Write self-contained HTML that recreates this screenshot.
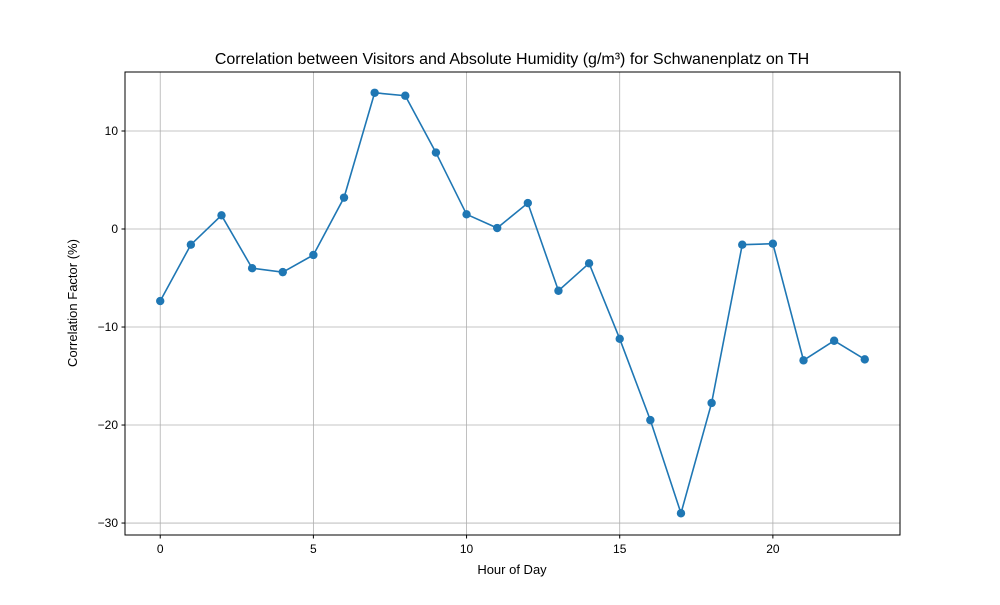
<!DOCTYPE html>
<html><head><meta charset="utf-8"><style>
body{margin:0;background:#fff;}
svg text{font-family:"Liberation Sans","DejaVu Sans",sans-serif;fill:#000;}
</style></head><body>
<svg id="chart" width="1000" height="600" xmlns="http://www.w3.org/2000/svg">
<rect width="1000" height="600" fill="#fff"/>
<text x="512" y="64" font-size="16" text-anchor="middle">Correlation between Visitors and Absolute Humidity (g/m³) for Schwanenplatz on TH</text>
<g id="grid"></g>
<g id="ticks"></g>
<g id="series"></g>
<rect x="125" y="72" width="775" height="463" fill="none" stroke="#000" stroke-width="1"/>
<text x="512" y="574" font-size="13" text-anchor="middle">Hour of Day</text>
<text x="77" y="303" font-size="13" text-anchor="middle" transform="rotate(-90 77 303)">Correlation Factor (%)</text>
</svg>
<script>
const hours=[0,1,2,3,4,5,6,7,8,9,10,11,12,13,14,15,16,17,18,19,20,21,22,23];
const values=[-7.35,-1.6,1.4,-4.0,-4.4,-2.65,3.2,13.9,13.6,7.8,1.5,0.1,2.65,-6.3,-3.5,-11.2,-19.5,-29.0,-17.75,-1.6,-1.5,-13.4,-11.4,-13.3];
const xTicks=[0,5,10,15,20];
const yTicks=[-30,-20,-10,0,10];
const L=125,R=900,T=72,B=535;
const xMin=-1.15,xMax=24.15,yMin=-31.22,yMax=16.02;
const xs=v=>L+(v-xMin)/(xMax-xMin)*(R-L);
const ys=v=>B-(v-yMin)/(yMax-yMin)*(B-T);
const NS="http://www.w3.org/2000/svg";
const mk=(t,a,p)=>{const e=document.createElementNS(NS,t);for(const k in a)e.setAttribute(k,a[k]);p.appendChild(e);return e;};
const grid=document.getElementById('grid'),ticks=document.getElementById('ticks'),ser=document.getElementById('series');
xTicks.forEach(t=>{const x=xs(t);
 const g=mk('line',{x1:x,x2:x,y1:T,y2:B,stroke:'#b0b0b0','stroke-width':0.8},grid);
 
 
 const k=mk('line',{x1:x,x2:x,y1:B,y2:B+3.5,stroke:'#000'},ticks);
 
 
 const l=mk('text',{x:x,y:B+18,'font-size':12,'text-anchor':'middle'},ticks);l.textContent=t;
 
 
});
yTicks.forEach(t=>{const y=ys(t);
 const g=mk('line',{x1:L,x2:R,y1:y,y2:y,stroke:'#b0b0b0','stroke-width':0.8},grid);
 
 
 const k=mk('line',{x1:L-3.5,x2:L,y1:y,y2:y,stroke:'#000'},ticks);
 
 
 const l=mk('text',{x:L-7,y:y+4,'font-size':12,'text-anchor':'end'},ticks);l.textContent=(t<0?'\u2212'+(-t):t);
 
 
});
const pts=hours.map((h,i)=>xs(h)+','+ys(values[i])).join(' ');
const pl=mk('polyline',{points:pts,fill:'none',stroke:'#1f77b4','stroke-width':1.6},ser);


hours.forEach((h,i)=>{const c=mk('circle',{cx:xs(h),cy:ys(values[i]),r:4.2,fill:'#1f77b4'},ser);
 
 
});
</script>
</body></html>
